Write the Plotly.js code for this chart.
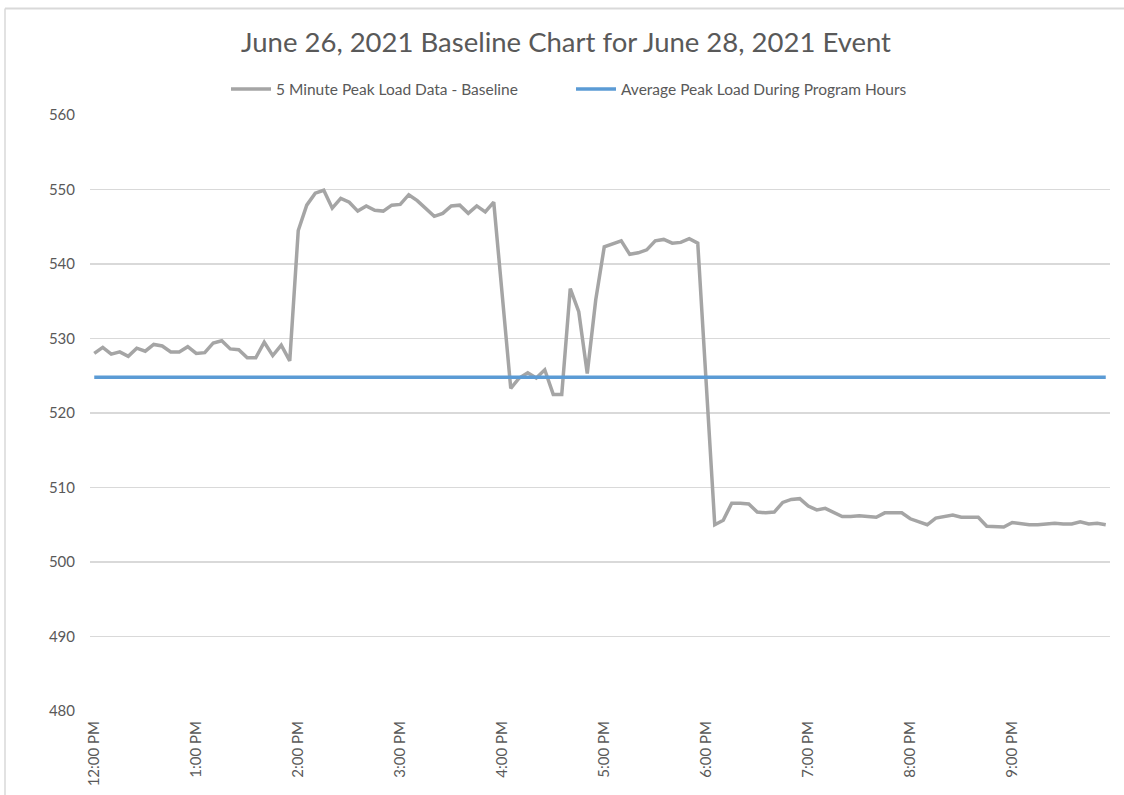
<!DOCTYPE html>
<html>
<head>
<meta charset="utf-8">
<script src="https://cdn.plot.ly/plotly-3.0.1.min.js"></script>
<style>
  html, body { margin: 0; padding: 0; background: #ffffff; }
  #chart { width: 1124px; height: 795px; }
</style>
</head>
<body>
<div id="chart"></div>
<script>
// 5-minute categories from 12:00 PM to 9:55 PM
const startHour = 12;
const stepMinutes = 5;
const pointCount = 120;
const times = [];
for (let k = 0; k < pointCount; k++) {
  const total = startHour * 60 + k * stepMinutes;
  const h24 = Math.floor(total / 60);
  const m = total % 60;
  const h12 = h24 % 12 === 0 ? 12 : h24 % 12;
  times.push(h12 + ':' + String(m).padStart(2, '0') + (h24 >= 12 ? ' PM' : ' AM'));
}

const hourTickLabels = ['12:00 PM', '1:00 PM', '2:00 PM', '3:00 PM', '4:00 PM',
                        '5:00 PM', '6:00 PM', '7:00 PM', '8:00 PM', '9:00 PM'];

const peakLoad12to2 = [528.0, 528.8, 527.9, 528.2, 527.6, 528.7, 528.3, 529.2, 529.0, 528.2, 528.2, 528.9,
                       528.0, 528.1, 529.4, 529.7, 528.6, 528.5, 527.4, 527.4, 529.5, 527.7, 529.1, 527.0];
const peakLoad2to4  = [544.5, 547.9, 549.5, 549.9, 547.5, 548.8, 548.3, 547.1, 547.8, 547.2, 547.1, 547.9,
                       548.0, 549.3, 548.5, 547.5, 546.4, 546.8, 547.8, 547.9, 546.8, 547.8, 547.0, 548.3];
const peakLoad4to6  = [536.0, 523.3, 524.7, 525.4, 524.7, 525.8, 522.5, 522.5, 536.7, 533.6, 525.3, 535.2,
                       542.3, 542.7, 543.1, 541.3, 541.5, 541.9, 543.1, 543.3, 542.8, 542.9, 543.4, 542.8];
const peakLoad6to8  = [524.0, 505.0, 505.6, 507.9, 507.9, 507.8, 506.7, 506.6, 506.7, 508.0, 508.4, 508.5,
                       507.5, 507.0, 507.2, 506.7, 506.1, 506.1, 506.2, 506.1, 506.0, 506.6, 506.6, 506.6];
const peakLoad8to10 = [505.8, 505.4, 505.0, 505.9, 506.1, 506.3, 506.0, 506.0, 506.0, 504.8, 504.8, 504.7,
                       505.3, 505.1, 505.0, 505.0, 505.1, 505.2, 505.1, 505.1, 505.4, 505.1, 505.2, 505.0];
const peakLoad = [].concat(peakLoad12to2, peakLoad2to4, peakLoad4to6, peakLoad6to8, peakLoad8to10);

const averagePeakLoad = 524.8;
const averageSeries = times.map(() => averagePeakLoad);

const yTicks = [480, 490, 500, 510, 520, 530, 540, 550, 560];

const textColor = '#595959';
const gridColor = '#d9d9d9';

const traces = [
  {
    x: times, y: peakLoad, type: 'scatter', mode: 'lines',
    name: '5 Minute Peak Load Data - Baseline',
    line: { color: '#a5a5a5', width: 3.5 }
  },
  {
    x: times, y: averageSeries, type: 'scatter', mode: 'lines',
    name: 'Average Peak Load During Program Hours',
    line: { color: '#5b9bd5', width: 3.5 }
  }
];

const hourTickVals = hourTickLabels.map((_, i) => times[i * 12]);

const layout = {
  width: 1124, height: 795,
  paper_bgcolor: '#ffffff', plot_bgcolor: '#ffffff',
  margin: { l: 90, r: 14, t: 114.5, b: 84, pad: 0 },
  font: { family: 'Lato, "Open Sans", sans-serif', color: textColor, size: 14 },
  title: {
    text: 'June 26, 2021 Baseline Chart for June 28, 2021 Event',
    font: { size: 27.5, color: textColor, family: 'Lato, "Open Sans", sans-serif' },
    x: (566 - 90) / 1020, xanchor: 'center', xref: 'paper',
    y: 1 - 42 / 795, yanchor: 'middle', yref: 'container'
  },
  showlegend: true,
  legend: {
    orientation: 'h', x: (571 - 90) / 1020, xanchor: 'center',
    y: 1 + (114.5 - 89) / 596.5, yanchor: 'middle',
    font: { size: 15.5, color: textColor },
    entrywidth: 290, entrywidthmode: 'pixels',
    itemwidth: 40, traceorder: 'normal'
  },
  xaxis: {
    type: 'category',
    range: [-0.5, pointCount - 0.5],
    tickmode: 'array', tickvals: hourTickVals, ticktext: hourTickLabels,
    tickangle: -90,
    tickfont: { size: 15, color: textColor },
    showgrid: false, zeroline: false,
    showline: false, ticks: '', ticklen: 0, ticklabelstandoff: 6,
    automargin: false
  },
  yaxis: {
    range: [480, 560],
    tickmode: 'array', tickvals: yTicks,
    tickfont: { size: 15, color: textColor },
    showgrid: true, gridcolor: gridColor, gridwidth: 1.3,
    zeroline: false, showline: false, ticks: '', ticklabelstandoff: 14,
    automargin: false
  },
  shapes: [
    { type: 'line', xref: 'paper', yref: 'paper',
      x0: (5 - 90) / 1020, x1: (1124 - 90) / 1020,
      y0: (711 - 8) / 596.5, y1: (711 - 8) / 596.5,
      line: { color: gridColor, width: 2 } },
    { type: 'line', xref: 'paper', yref: 'paper',
      x0: (5 - 90) / 1020, x1: (5 - 90) / 1020,
      y0: (711 - 8) / 596.5, y1: (711 - 800) / 596.5,
      line: { color: gridColor, width: 1.5 } }
  ]
};

Plotly.newPlot('chart', traces, layout, { displayModeBar: false, staticPlot: true });
</script>
</body>
</html>
